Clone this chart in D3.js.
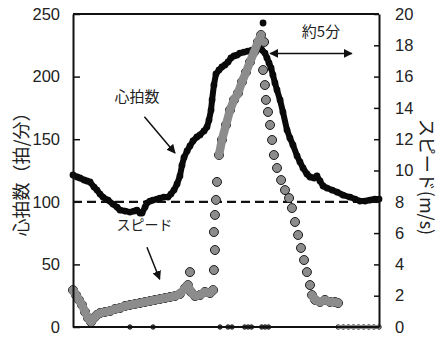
<!DOCTYPE html>
<html>
<head>
<meta charset="utf-8">
<script src="https://cdn.jsdelivr.net/npm/d3@7"></script>
<style>
  body { margin: 0; background: #fff; }
  svg { display: block; }
  .tick text { font-family: "Liberation Sans", Arial, sans-serif; font-size: 16.5px; fill: #222; }
  .jp { font-family: "Noto Sans CJK JP", sans-serif; fill: #222; }
</style>
</head>
<body>
<svg width="441" height="337"></svg>
<script>
// time in minutes, heart rate in beats/min
const hrTime = [0, 0.24, 0.41, 0.65, 0.82, 1.0, 1.24, 1.41, 1.59, 1.76, 2.06, 2.35, 2.59, 2.76, 3.06, 3.35, 3.59, 3.76, 3.94, 4.06,
  4.24, 4.35, 4.53, 4.71, 4.94, 5.12, 5.35, 5.59, 5.76, 5.94, 6.12, 6.29, 6.41, 6.53, 6.71, 6.88, 7.06, 7.29, 7.47, 7.71,
  7.88, 8.0, 8.12, 8.18, 8.29, 8.41, 8.59, 8.76, 8.94, 9.12, 9.29, 9.47, 9.65, 9.82, 10.06, 10.29, 10.53, 10.76, 10.94, 11.12,
  11.29, 11.41, 11.53, 11.65, 11.76, 11.88, 12.0, 12.18, 12.35, 12.59, 12.76, 12.94, 13.18, 13.35, 13.53, 13.76, 13.94, 14.18, 14.35, 14.53,
  14.71, 14.94, 15.24, 15.53, 15.88, 16.29, 16.59, 16.88, 17.18, 17.47, 17.76, 18.0];
const hrValue = [121.4, 119.8, 119.0, 117.4, 116.6, 115.8, 111.8, 109.4, 106.2, 103.8, 101.4, 98.2, 95.8, 93.4, 92.6, 91.8, 92.6, 93.4, 91.0, 91.0,
  95.8, 99.0, 100.6, 101.4, 102.2, 103.0, 103.8, 103.8, 106.2, 109.4, 114.2, 120.6, 129.1, 135.4, 140.6, 144.6, 148.6, 151.8, 153.4, 156.6,
  159.7, 165.3, 173.3, 181.3, 193.3, 202.1, 205.3, 207.7, 209.3, 211.7, 214.9, 216.5, 217.2, 218.8, 219.6, 220.4, 221.2, 222.8, 223.6, 221.2,
  218.8, 214.9, 210.9, 206.9, 201.3, 194.9, 189.3, 181.3, 171.7, 157.3, 151.0, 145.4, 136.6, 131.8, 127.0, 122.2, 119.8, 119.0, 120.6, 116.6,
  112.6, 111.0, 109.4, 107.8, 105.4, 103.8, 102.2, 100.6, 100.6, 101.4, 102.2, 102.2];
const hrOutlierTime = [11.18];
const hrOutlierValue = [242.8];

// time in minutes, speed in m/s
const spTime = [0, 0.18, 0.35, 0.53, 0.71, 0.88, 1.06, 1.24, 1.41, 1.59, 1.88, 2.18, 2.47, 2.76, 3.06, 3.35, 3.65, 3.94, 4.24, 4.53,
  4.82, 5.12, 5.41, 5.71, 6.0, 6.29, 6.59, 6.76, 6.94, 7.18, 7.47, 7.76, 8.06, 8.24, 8.29, 8.35, 8.29, 8.35, 8.41, 8.47,
  8.59, 8.76, 9.0, 9.24, 9.47, 9.71, 9.94, 10.18, 10.41, 10.65, 10.88, 11.06, 11.24, 11.18, 11.29, 11.35, 11.47, 11.59, 11.71, 11.82,
  12.0, 12.24, 12.47, 12.71, 12.88, 13.06, 13.24, 13.41, 13.59, 13.76, 13.94, 14.06, 14.24, 14.53, 14.82, 15.12, 15.41, 15.59, 6.88,
  3.35, 4.71, 8.65, 9.12, 9.35, 10.1, 10.3, 10.5, 11.1, 11.3, 11.5,
  15.6, 15.9, 16.2, 16.5, 16.8, 17.1, 17.4, 17.7, 18.0];
const spValue = [2.36, 2.04, 1.73, 1.41, 0.96, 0.58, 0.32, 0.58, 0.77, 0.89, 0.96, 1.02, 1.15, 1.21, 1.34, 1.41, 1.47, 1.53, 1.60, 1.66,
  1.73, 1.79, 1.85, 1.92, 1.98, 2.11, 2.49, 2.68, 2.24, 1.98, 2.04, 2.24, 2.17, 2.36, 3.64, 4.92, 6.07, 7.16, 8.12, 9.27,
  10.99, 11.95, 12.91, 13.87, 14.51, 14.95, 15.66, 16.29, 16.93, 17.57, 18.21, 18.66, 18.21, 16.42, 15.46, 14.51, 13.74, 12.91, 11.95, 10.99,
  10.16, 9.39, 8.75, 8.24, 7.60, 6.71, 5.88, 5.05, 4.28, 3.51, 2.68, 2.04, 1.73, 1.60, 1.73, 1.60, 1.60, 1.53, 3.51,
  0, 0, 0, 0, 0, 0, 0, 0, 0, 0, 0,
  0, 0, 0, 0, 0, 0, 0, 0, 0];
// stretches where the speed samples run together into a band
const denseRanges = [[0, 8.25], [8.55, 11.07], [14.0, 15.6], [15.6, 18.0]];

const hrTicks = [0, 50, 100, 150, 200, 250];
const spTicks = [0, 2, 4, 6, 8, 10, 12, 14, 16, 18, 20];
const restLevel = 100;
const spanStart = 11.6, spanEnd = 16.4; // 約5分

const margin = { top: 14, right: 62, bottom: 10, left: 73 };
const svg = d3.select("svg");
const width = +svg.attr("width") - margin.left - margin.right;
const height = +svg.attr("height") - margin.top - margin.bottom;

const x = d3.scaleLinear().domain([0, 18]).range([0, width]);
const yHr = d3.scaleLinear().domain([0, 250]).range([height, 0]);
const ySp = d3.scaleLinear().domain([0, 20]).range([height, 0]);

const defs = svg.append("defs");
defs.append("marker")
  .attr("id", "head")
  .attr("viewBox", "0 0 10 10")
  .attr("refX", 9).attr("refY", 5)
  .attr("markerWidth", 9).attr("markerHeight", 9)
  .attr("markerUnits", "userSpaceOnUse")
  .attr("orient", "auto-start-reverse")
  .append("path").attr("d", "M0,0L10,5L0,10z").attr("fill", "#111");

const g = svg.append("g").attr("transform", "translate(" + margin.left + "," + margin.top + ")");

// dashed resting level
g.append("line")
  .attr("x1", 0).attr("x2", width)
  .attr("y1", yHr(restLevel)).attr("y2", yHr(restLevel))
  .attr("stroke", "#111").attr("stroke-width", 2.2)
  .attr("stroke-dasharray", "9,5");

// heart rate
const hrData = hrTime.map((t, i) => ({ t: t, v: hrValue[i] }));
g.append("path")
  .datum(hrData)
  .attr("fill", "none")
  .attr("stroke", "#0a0a0a")
  .attr("stroke-width", 6)
  .attr("stroke-linejoin", "round")
  .attr("stroke-linecap", "round")
  .attr("d", d3.line().x(d => x(d.t)).y(d => yHr(d.v)));
g.selectAll(".hr")
  .data(hrData.concat(hrOutlierTime.map((t, i) => ({ t: t, v: hrOutlierValue[i] }))))
  .enter().append("circle")
  .attr("class", "hr")
  .attr("cx", d => x(d.t)).attr("cy", d => yHr(d.v))
  .attr("r", 3.4)
  .attr("fill", "#0a0a0a");

// speed: outlined dots, then a gray band over the dense stretches
const spData = spTime.map((t, i) => ({ t: t, v: spValue[i] }));
g.selectAll(".sp")
  .data(spData)
  .enter().append("circle")
  .attr("class", "sp")
  .attr("cx", d => x(d.t)).attr("cy", d => ySp(d.v))
  .attr("r", d => d.v === 0 ? 2.2 : 4.5)
  .attr("fill", d => d.v === 0 ? "#555" : "#8c8c8c")
  .attr("stroke", "#1a1a1a")
  .attr("stroke-width", 1);
denseRanges.forEach((r, k) => {
  const seg = spData.filter((d, i) => d.t >= r[0] && d.t <= r[1] && (k === 3 ? d.v === 0 : (d.v > 0 && i < 78)));
  g.append("path")
    .datum(seg)
    .attr("fill", "none")
    .attr("stroke", "#8c8c8c")
    .attr("stroke-width", k === 3 ? 4 : 8.5)
    .attr("stroke-linejoin", "round")
    .attr("stroke-linecap", "round")
    .attr("d", d3.line().x(d => x(d.t)).y(d => ySp(d.v)));
});

// frame and axes
g.append("line").attr("x1", 0).attr("x2", width).attr("y1", 0).attr("y2", 0)
  .attr("stroke", "#111").attr("stroke-width", 2);
g.append("line").attr("x1", 0).attr("x2", width).attr("y1", height).attr("y2", height)
  .attr("stroke", "#111").attr("stroke-width", 2);

const leftAxis = g.append("g")
  .call(d3.axisLeft(yHr).tickValues(hrTicks).tickSizeInner(-7).tickSizeOuter(0).tickPadding(13));
const rightAxis = g.append("g")
  .attr("transform", "translate(" + width + ",0)")
  .call(d3.axisRight(ySp).tickValues(spTicks).tickSizeInner(-5).tickSizeOuter(0).tickPadding(16));
[leftAxis, rightAxis].forEach(a => {
  a.select(".domain").attr("stroke", "#111").attr("stroke-width", 2);
  a.selectAll(".tick line").attr("stroke", "#111").attr("stroke-width", 1.5);
});

// axis titles
svg.append("text").attr("class", "jp")
  .attr("transform", "translate(20,170) rotate(-90)")
  .attr("text-anchor", "middle").attr("dominant-baseline", "central")
  .style("font-size", "18px")
  .text("心拍数（拍/分）");
svg.append("text").attr("class", "jp")
  .attr("transform", "translate(428,177) rotate(90)")
  .attr("text-anchor", "middle").attr("dominant-baseline", "central")
  .style("font-size", "18px")
  .text("スピード(m/s)");

// annotations
g.append("text").attr("class", "jp")
  .attr("x", x(3.76)).attr("y", yHr(180))
  .attr("text-anchor", "middle").style("font-size", "15px")
  .text("心拍数");
g.append("line")
  .attr("x1", x(4.2)).attr("y1", yHr(168))
  .attr("x2", x(6.0)).attr("y2", yHr(139))
  .attr("stroke", "#111").attr("stroke-width", 1.5)
  .attr("marker-end", "url(#head)");

g.append("text").attr("class", "jp")
  .attr("x", x(4.2)).attr("y", ySp(6.2))
  .attr("text-anchor", "middle").style("font-size", "14px")
  .text("スピード");
g.append("line")
  .attr("x1", x(4.35)).attr("y1", ySp(5.1))
  .attr("x2", x(5.1)).attr("y2", ySp(3.05))
  .attr("stroke", "#111").attr("stroke-width", 1.5)
  .attr("marker-end", "url(#head)");

g.append("text").attr("class", "jp")
  .attr("x", x((spanStart + spanEnd) / 2) + 10).attr("y", ySp(18.55))
  .attr("text-anchor", "middle").style("font-size", "15px")
  .text("約5分");
g.append("line")
  .attr("x1", x(spanStart)).attr("x2", x(spanEnd))
  .attr("y1", ySp(17.48)).attr("y2", ySp(17.48))
  .attr("stroke", "#111").attr("stroke-width", 1.5)
  .attr("marker-start", "url(#head)").attr("marker-end", "url(#head)");
</script>
</body>
</html>
